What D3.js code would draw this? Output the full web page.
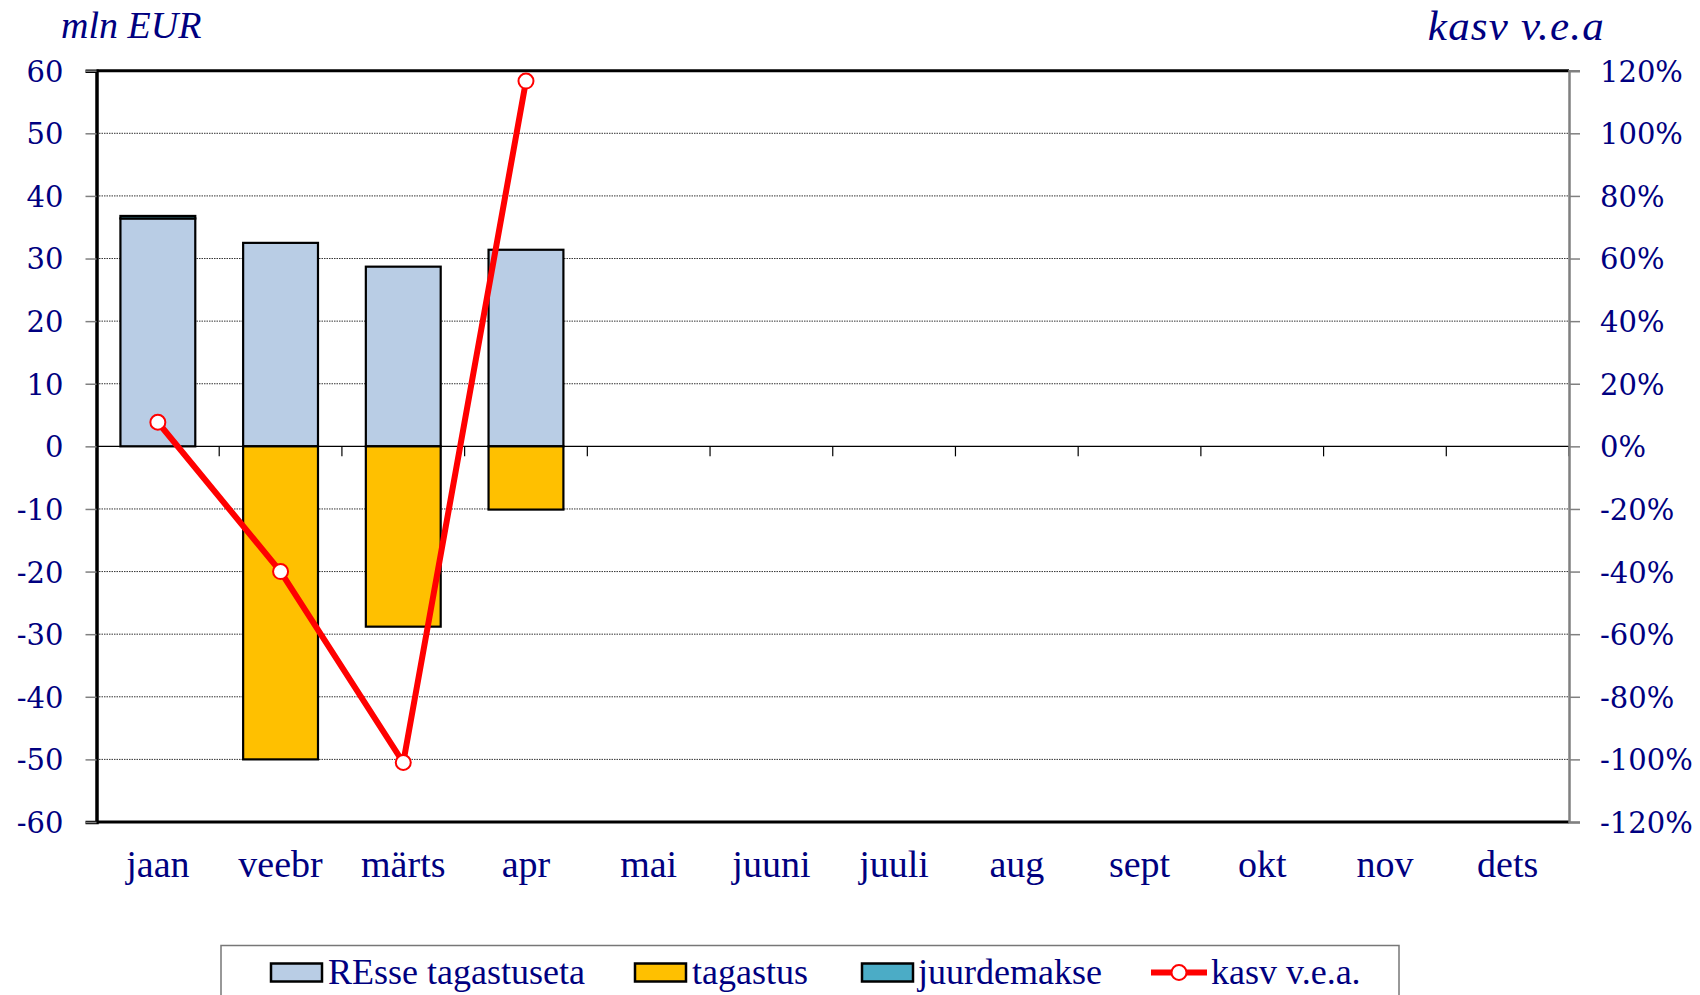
<!DOCTYPE html>
<html>
<head>
<meta charset="utf-8">
<script src="https://cdn.jsdelivr.net/npm/d3@7/dist/d3.min.js"></script>
<style>
  html, body { margin: 0; padding: 0; background: #fff; }
  svg { display: block; }
</style>
</head>
<body>
<svg id="chart" width="1700" height="995"></svg>
<script>
// ---- data ----
const months = ["jaan", "veebr", "märts", "apr", "mai", "juuni", "juuli", "aug", "sept", "okt", "nov", "dets"];
const resseTagastuseta = [36.4, 32.5, 28.7, 31.4, null, null, null, null, null, null, null, null];
const tagastus = [0, -50.0, -28.8, -10.1, null, null, null, null, null, null, null, null];
const juurdemakse = [0.4, 0, 0, 0, null, null, null, null, null, null, null, null];
const kasvVea = [7.7, -40, -101, 116.7, null, null, null, null, null, null, null, null];
const leftTicks = [-60, -50, -40, -30, -20, -10, 0, 10, 20, 30, 40, 50, 60];
const rightTicks = [-120, -100, -80, -60, -40, -20, 0, 20, 40, 60, 80, 100, 120];
const seriesNames = ["REsse tagastuseta", "tagastus", "juurdemakse", "kasv v.e.a."];
const colors = { resse: "#B9CDE5", tagastus: "#FFC000", juurdemakse: "#4BACC6", line: "#FF0000", text: "#000080" };

// ---- layout ----
const svg = d3.select("#chart");
const L = 96.5, R = 1569, T = 70.7, B = 822;
const navy = colors.text;

const x = d3.scaleBand().domain(months).range([L, R]).paddingInner(0.39).paddingOuter(0.195);
const step = x.step();
const y = d3.scaleLinear().domain([-60, 60]).range([B, T]);
const y2 = d3.scaleLinear().domain([-120, 120]).range([B, T]);

// gridlines (dotted)
svg.append("g")
  .selectAll("line")
  .data(leftTicks.filter(d => d !== 0 && Math.abs(d) !== 60))
  .join("line")
  .attr("x1", L).attr("x2", R)
  .attr("y1", d => y(d)).attr("y2", d => y(d))
  .attr("stroke", "#333").attr("stroke-width", 1)
  .attr("stroke-dasharray", "1.5,1");

// stacked data
const rows = months.map((m, i) => ({
  month: m,
  resse: resseTagastuseta[i] || 0,
  juurdemakse: juurdemakse[i] || 0,
  tagastus: tagastus[i] || 0
}));
const stack = d3.stack().keys(["resse", "juurdemakse", "tagastus"]).offset(d3.stackOffsetDiverging);
const stacked = stack(rows);
const fillFor = { resse: colors.resse, juurdemakse: colors.juurdemakse, tagastus: colors.tagastus };

const barG = svg.append("g");
stacked.forEach(layer => {
  barG.append("g")
    .selectAll("rect")
    .data(layer.filter(d => d[1] - d[0] !== 0))
    .join("rect")
    .attr("x", d => x(d.data.month))
    .attr("width", x.bandwidth())
    .attr("y", d => y(Math.max(d[0], d[1])))
    .attr("height", d => Math.abs(y(d[0]) - y(d[1])))
    .attr("fill", fillFor[layer.key])
    .attr("stroke", "#000")
    .attr("stroke-width", 2.2);
});

// zero axis with downward ticks at category boundaries
svg.append("line")
  .attr("x1", L).attr("x2", R).attr("y1", y(0)).attr("y2", y(0))
  .attr("stroke", "#000").attr("stroke-width", 1.2);
svg.append("g")
  .selectAll("line")
  .data(d3.range(1, months.length + 1))
  .join("line")
  .attr("x1", i => L + i * step).attr("x2", i => L + i * step)
  .attr("y1", y(0)).attr("y2", y(0) + 10)
  .attr("stroke", "#000").attr("stroke-width", 1.2);

// plot border: top, bottom, left black; right = secondary axis gray
svg.append("line").attr("x1", L).attr("x2", R).attr("y1", T).attr("y2", T).attr("stroke", "#000").attr("stroke-width", 3);
svg.append("line").attr("x1", L).attr("x2", R).attr("y1", B).attr("y2", B).attr("stroke", "#000").attr("stroke-width", 3);

// left axis
const leftAxis = svg.append("g").attr("transform", `translate(${L},0)`)
  .call(d3.axisLeft(y).tickValues(leftTicks).tickSize(11).tickPadding(22).tickFormat(d => String(d)));
leftAxis.select(".domain").attr("stroke", "#000").attr("stroke-width", 3.5);
leftAxis.selectAll(".tick line").attr("stroke", "#808080").attr("stroke-width", 1.5);
leftAxis.selectAll("text")
  .attr("fill", navy).attr("font-family", "DejaVu Serif").attr("font-size", 29).attr("dy", "0.36em");

// right axis
const rightAxis = svg.append("g").attr("transform", `translate(${R},0)`)
  .call(d3.axisRight(y2).tickValues(rightTicks).tickSize(11).tickPadding(20).tickFormat(d => String(d) + "%"));
rightAxis.select(".domain").attr("stroke", "#808080").attr("stroke-width", 2.5);
rightAxis.selectAll(".tick line").attr("stroke", "#808080").attr("stroke-width", 1.5);
rightAxis.selectAll("text")
  .attr("fill", navy).attr("font-family", "DejaVu Serif").attr("font-size", 29).attr("dy", "0.36em");

// category labels
svg.append("g")
  .selectAll("text")
  .data(months)
  .join("text")
  .attr("x", d => x(d) + x.bandwidth() / 2)
  .attr("y", 877)
  .attr("text-anchor", "middle")
  .attr("fill", navy)
  .attr("font-family", "Liberation Serif")
  .attr("font-size", 38)
  .text(d => d);

// line series
const pts = months.map((m, i) => ({ month: m, v: kasvVea[i] })).filter(d => d.v !== null);
svg.append("path")
  .datum(pts)
  .attr("fill", "none")
  .attr("stroke", colors.line)
  .attr("stroke-width", 6)
  .attr("stroke-linejoin", "round")
  .attr("d", d3.line().x(d => x(d.month) + x.bandwidth() / 2).y(d => y2(d.v)));
svg.append("g")
  .selectAll("circle")
  .data(pts)
  .join("circle")
  .attr("cx", d => x(d.month) + x.bandwidth() / 2)
  .attr("cy", d => y2(d.v))
  .attr("r", 7.5)
  .attr("fill", "#fff")
  .attr("stroke", colors.line)
  .attr("stroke-width", 2);

// axis titles
svg.append("text").attr("x", 61).attr("y", 38)
  .attr("fill", navy).attr("font-family", "Liberation Serif").attr("font-style", "italic")
  .attr("font-size", 38).text("mln EUR");
svg.append("text").attr("x", 1605).attr("y", 40).attr("text-anchor", "end")
  .attr("fill", navy).attr("font-family", "Liberation Serif").attr("font-style", "italic")
  .attr("font-size", 43).attr("letter-spacing", 1.2).text("kasv v.e.a");

// legend
const lg = svg.append("g");
lg.append("rect").attr("x", 221).attr("y", 945.5).attr("width", 1178).attr("height", 60)
  .attr("fill", "#fff").attr("stroke", "#777").attr("stroke-width", 1.5);
const legendItems = [
  { name: seriesNames[0], type: "rect", color: colors.resse, sx: 271, tx: 328 },
  { name: seriesNames[1], type: "rect", color: colors.tagastus, sx: 635, tx: 692 },
  { name: seriesNames[2], type: "rect", color: colors.juurdemakse, sx: 862, tx: 918 },
  { name: seriesNames[3], type: "line", color: colors.line, sx: 1151, tx: 1211 }
];
legendItems.forEach(it => {
  if (it.type === "rect") {
    lg.append("rect").attr("x", it.sx).attr("y", 963.5).attr("width", 51).attr("height", 18)
      .attr("fill", it.color).attr("stroke", "#000").attr("stroke-width", 2.5);
  } else {
    lg.append("line").attr("x1", it.sx).attr("x2", it.sx + 56).attr("y1", 972.5).attr("y2", 972.5)
      .attr("stroke", it.color).attr("stroke-width", 6);
    lg.append("circle").attr("cx", it.sx + 28).attr("cy", 972.5).attr("r", 7.5)
      .attr("fill", "#fff").attr("stroke", it.color).attr("stroke-width", 2);
  }
  lg.append("text").attr("x", it.tx).attr("y", 983.5)
    .attr("fill", navy).attr("font-family", "Liberation Serif").attr("font-size", 36)
    .text(it.name);
});
</script>
</body>
</html>
